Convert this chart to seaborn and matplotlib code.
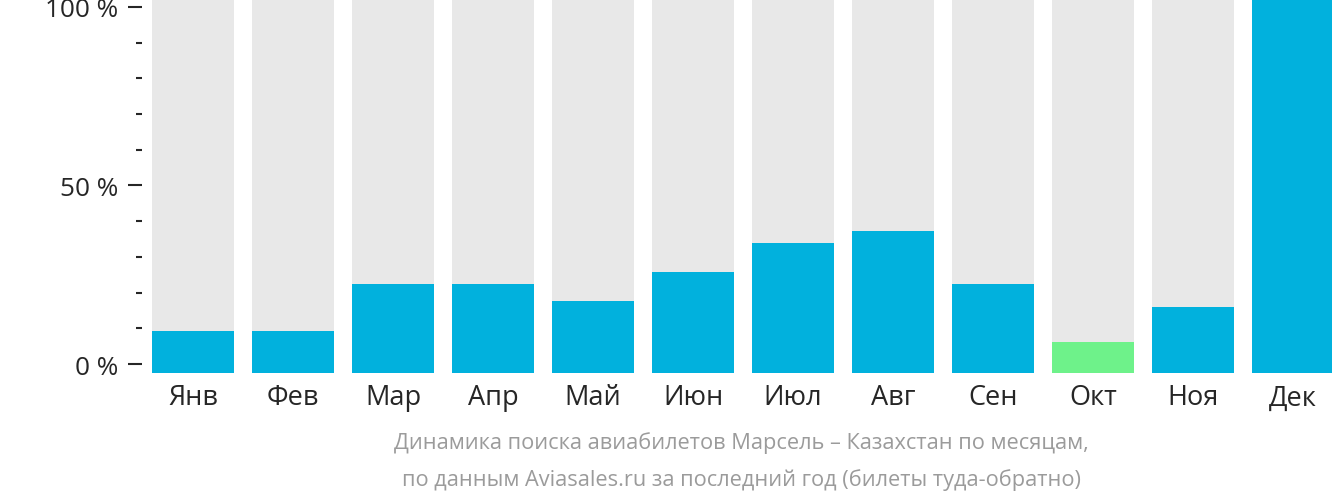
import matplotlib
matplotlib.use("Agg")
import matplotlib.pyplot as plt
import seaborn as sns
import pandas as pd
import numpy as np
from matplotlib.ticker import MultipleLocator, FixedLocator

months = ["Янв", "Фев", "Мар", "Апр", "Май", "Июн", "Июл", "Авг", "Сен", "Окт", "Ноя", "Дек"]
values = [9.2, 9.2, 22.4, 22.4, 17.6, 25.8, 33.9, 37.3, 22.4, 6.2, 16.0, 103.0]
y_major = [0, 50, 100]
y_labels = ["0 %", "50 %", "100 %"]
caption = ["Динамика поиска авиабилетов Марсель – Казахстан по месяцам,",
           "по данным Aviasales.ru за последний год (билеты туда-обратно)"]

BLUE = "#01b1dd"
GREEN = "#6ef28a"
GREY = "#e8e8e8"
TEXT = "#262626"
CAPTION = "#9b9b9b"
YMIN, YMAX = -2.5, 102.2

sns.set_theme(style="white")
plt.rcParams["font.family"] = ["Open Sans", "DejaVu Sans"]

df = pd.DataFrame({"month": months, "value": values})
vmin = min(values)
colors = [GREEN if v == vmin else BLUE for v in values]

fig = plt.figure(figsize=(13.32, 5.02), dpi=100)
ax = fig.add_axes([152 / 1332, (502 - 374) / 502, 1 - 152 / 1332, 374 / 502])

bg = pd.DataFrame({"month": months, "value": [YMAX + 5] * len(months)})
sns.barplot(data=bg, x="month", y="value", color=GREY, width=0.82, ax=ax,
            saturation=1, errorbar=None)
sns.barplot(data=df, x="month", y="value", hue="month", palette=colors, width=0.82,
            ax=ax, saturation=1, errorbar=None, legend=False)
for p in ax.patches:
    h = p.get_height()
    p.set_y(YMIN)
    p.set_height(h - YMIN)
    p.set_linewidth(0)

ax.set_xlim(-0.41, 11.39)
ax.set_ylim(YMIN, YMAX)
ax.set_xlabel("")
ax.set_ylabel("")

for s in ax.spines.values():
    s.set_visible(False)
ax.spines["left"].set_position(("outward", 7.2))

ax.yaxis.set_major_locator(FixedLocator(y_major))
ax.set_yticklabels(y_labels)
ax.yaxis.set_minor_locator(MultipleLocator(10))
ax.tick_params(axis="y", which="major", length=10, width=1.5, color=TEXT,
               direction="out", left=True, pad=7, labelsize=18.8, labelcolor=TEXT)
ax.tick_params(axis="y", which="minor", length=4.3, width=1.5, color=TEXT,
               direction="out", left=True)
ax.tick_params(axis="x", length=0, pad=7.5, labelsize=19.5, labelcolor=TEXT)

cx = 741.5 / 1332
fig.text(cx, 1 - 443 / 502, caption[0], ha="center", va="center",
         fontsize=15.7, color=CAPTION)
fig.text(cx, 1 - 480 / 502, caption[1], ha="center", va="center",
         fontsize=15.7, color=CAPTION)

fig.savefig("out.png", dpi=100)
